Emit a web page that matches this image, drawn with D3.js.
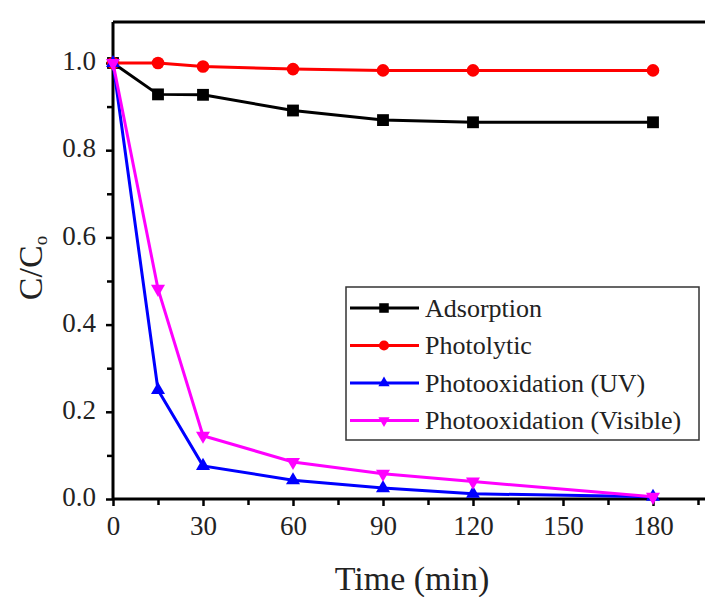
<!DOCTYPE html>
<html>
<head>
<meta charset="utf-8">
<script src="https://cdn.jsdelivr.net/npm/d3@7"></script>
<style>
  html, body { margin: 0; padding: 0; background: #fff; overflow: hidden; }
  text { font-family: "Liberation Serif", "DejaVu Serif", serif; fill: #222; }
</style>
</head>
<body>
<div id="chart"></div>
<script>
// data
const times = [0, 15, 30, 60, 90, 120, 180];
const adsorption = [1.0, 0.928, 0.927, 0.891, 0.869, 0.864, 0.864];
const photolytic = [1.0, 1.0, 0.992, 0.986, 0.983, 0.983, 0.983];
const photoUV = [1.0, 0.25, 0.076, 0.043, 0.025, 0.012, 0.005];
const photoVis = [1.0, 0.482, 0.145, 0.085, 0.058, 0.040, 0.005];

const xTicks = [0, 30, 60, 90, 120, 150, 180];
const yTicks = [0.0, 0.2, 0.4, 0.6, 0.8, 1.0];

const series = [
    { name: 'Adsorption', values: adsorption, color: '#000000', symbol: d3.symbolSquare, size: 140, rot: 0 },
    { name: 'Photolytic', values: photolytic, color: '#ff0000', symbol: d3.symbolCircle, size: 125, rot: 0 },
    { name: 'Photooxidation (UV)', values: photoUV, color: '#0000ff', symbol: d3.symbolTriangle, size: 85, rot: 0 },
    { name: 'Photooxidation (Visible)', values: photoVis, color: '#ff00ff', symbol: d3.symbolTriangle, size: 85, rot: 180 }
];

const width = 705;
const height = 597;

const svg = d3.select('#chart')
    .append('svg')
    .attr('width', width)
    .attr('height', height);

// scales
const xScale = d3.scaleLinear()
    .domain([0, 200])
    .range([113, 713]);
const yScale = d3.scaleLinear()
    .domain([0, 1.094])
    .range([499, 22]);

// top frame line
svg.append('line')
    .attr('x1', xScale(0))
    .attr('x2', width)
    .attr('y1', yScale(1.094))
    .attr('y2', yScale(1.094))
    .attr('stroke', '#000')
    .attr('stroke-width', 3);

// minor ticks
const xMinor = d3.axisBottom(xScale)
    .tickValues(d3.range(15, 200, 30))
    .tickSize(6)
    .tickFormat('');
svg.append('g')
    .classed('x minor', true)
    .attr('transform', `translate(0,${yScale(0)})`)
    .call(xMinor);

const yMinor = d3.axisLeft(yScale)
    .tickValues([0.1, 0.3, 0.5, 0.7, 0.9])
    .tickSize(6)
    .tickFormat('');
svg.append('g')
    .classed('y minor', true)
    .attr('transform', `translate(${xScale(0)},0)`)
    .call(yMinor);

// main axes
const xAxis = d3.axisBottom(xScale)
    .tickValues(xTicks)
    .tickSize(7)
    .tickPadding(10)
    .tickFormat(d3.format('d'));
svg.append('g')
    .classed('x axis', true)
    .attr('transform', `translate(0,${yScale(0)})`)
    .call(xAxis);

const yAxis = d3.axisLeft(yScale)
    .tickValues(yTicks)
    .tickSize(7)
    .tickPadding(10)
    .tickFormat(d3.format('.1f'));
svg.append('g')
    .classed('y axis', true)
    .attr('transform', `translate(${xScale(0)},0)`)
    .call(yAxis);

// d3 puts sans-serif on axis groups, drop it
svg.selectAll('.axis, .minor')
    .attr('font-family', null)
    .attr('font-size', null);
svg.selectAll('.domain')
    .attr('stroke', '#000')
    .attr('stroke-width', 3);
svg.select('.x.axis .domain').attr('d', `M${xScale(0)},0H${width}`);
svg.select('.y.axis .domain').attr('d', `M0,${yScale(0)}V${yScale(1.094)}`);
svg.selectAll('.x.minor .domain, .y.minor .domain').remove();
svg.selectAll('.tick line')
    .attr('stroke', '#000')
    .attr('stroke-width', 2.5);
svg.selectAll('.tick text')
    .style('font-size', '27px')
    .attr('fill', '#222');
svg.selectAll('.y.axis .tick text').attr('dy', '0.25em');

// lines and markers
const line = d3.line()
    .x((d, i) => xScale(times[i]))
    .y(d => yScale(d));

series.forEach(s => {
    svg.append('path')
        .datum(s.values)
        .attr('fill', 'none')
        .attr('stroke', s.color)
        .attr('stroke-width', 3)
        .attr('d', line);

    svg.selectAll(null)
        .data(s.values)
        .enter()
        .append('path')
        .attr('d', d3.symbol().type(s.symbol).size(s.size))
        .attr('transform', (d, i) => `translate(${xScale(times[i])},${yScale(d)}) rotate(${s.rot})`)
        .attr('fill', s.color);
});

// legend
const legend = svg.append('g')
    .attr('transform', 'translate(346,287)');
legend.append('rect')
    .attr('width', 353)
    .attr('height', 153)
    .attr('fill', '#fff')
    .attr('stroke', '#333')
    .attr('stroke-width', 1.5);

const rows = legend.selectAll('.row')
    .data(series)
    .enter()
    .append('g')
    .attr('transform', (d, i) => `translate(0,${21 + i * 37.5})`);
rows.append('line')
    .attr('x1', 4)
    .attr('x2', 73)
    .attr('stroke', d => d.color)
    .attr('stroke-width', 3);
rows.append('path')
    .attr('d', d => d3.symbol().type(d.symbol).size(d.size * 0.65)())
    .attr('transform', d => `translate(38,0) rotate(${d.rot})`)
    .attr('fill', d => d.color);
rows.append('text')
    .attr('x', 79)
    .attr('dy', '0.33em')
    .style('font-size', '26px')
    .text(d => d.name);

// axis titles
svg.append('text')
    .attr('x', 412)
    .attr('y', 590)
    .style('font-size', '34px')
    .style('text-anchor', 'middle')
    .text('Time (min)');

const yTitle = svg.append('text')
    .attr('transform', 'translate(42,268) rotate(-90)')
    .style('font-size', '34px')
    .style('text-anchor', 'middle');
yTitle.append('tspan').text('C/C');
yTitle.append('tspan')
    .attr('dy', 5)
    .style('font-size', '19px')
    .text('o');
</script>
</body>
</html>
